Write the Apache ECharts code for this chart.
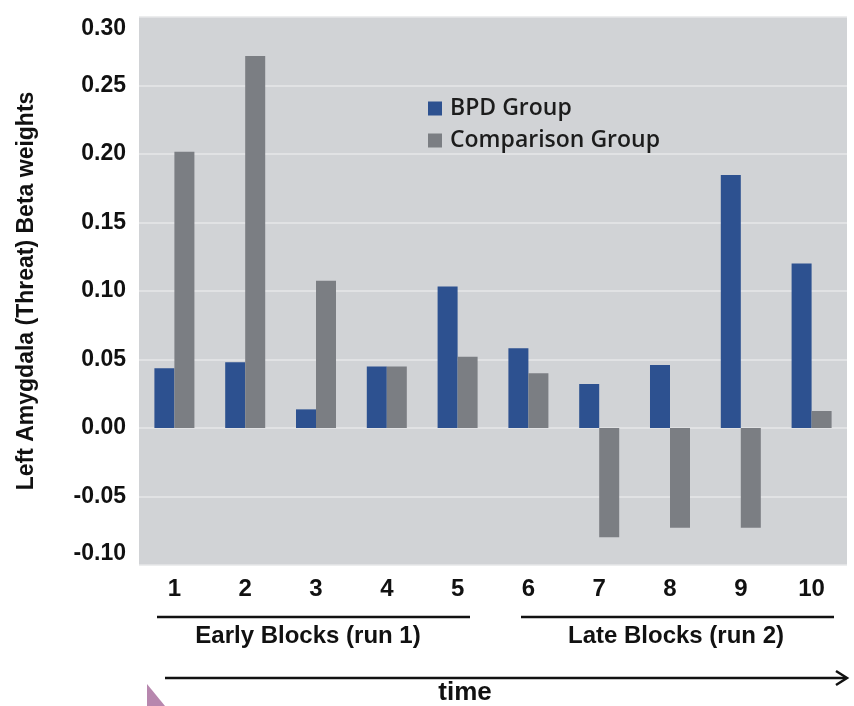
<!DOCTYPE html>
<html>
<head>
<meta charset="utf-8">
<script src="https://cdn.jsdelivr.net/npm/echarts@6/dist/echarts.min.js"></script>
<style>
html,body{margin:0;padding:0;background:#fff;}
#chart{width:854px;height:706px;}
</style>
</head>
<body>
<div id="chart"></div>
<script>
var categories = ['1','2','3','4','5','6','7','8','9','10'];
var bpdValues = [0.0436, 0.048, 0.0136, 0.0448, 0.1032, 0.0582, 0.0321, 0.046, 0.1847, 0.120];
var comparisonValues = [0.2017, 0.2715, 0.1075, 0.0448, 0.052, 0.0399, -0.0798, -0.0728, -0.0728, 0.0124];
var seriesNames = ['BPD Group', 'Comparison Group'];
var yTitle = 'Left Amygdala (Threat) Beta weights';
var groupLabels = ['Early Blocks (run 1)', 'Late Blocks (run 2)'];
var timeLabel = 'time';

var chart = echarts.init(document.getElementById('chart'));
var bold = 'Liberation Sans, Arial, sans-serif';
chart.setOption({
  animation: false,
  backgroundColor: '#ffffff',
  grid: {
    left: 139, right: 7, top: 17, bottom: 141,
    show: true, backgroundColor: '#d1d3d6', borderWidth: 0
  },
  legend: {
    orient: 'vertical',
    left: 423, top: 92,
    itemWidth: 14, itemHeight: 14, itemGap: 9,
    icon: 'rect',
    data: seriesNames,
    textStyle: { fontFamily: 'Open Sans, sans-serif', fontWeight: 600, fontSize: 23, color: '#1c1c1c', padding: [0,0,0,3] }
  },
  xAxis: {
    type: 'category',
    data: categories,
    axisLine: { show: false },
    axisTick: { show: false },
    splitLine: { show: false },
    axisLabel: { margin: 12, fontFamily: bold, fontWeight: 'bold', fontSize: 24, color: '#111' }
  },
  yAxis: {
    type: 'value',
    min: -0.1, max: 0.3, interval: 0.05,
    axisLine: { show: false },
    axisTick: { show: false },
    splitLine: { show: true, lineStyle: { color: '#e6e7e9', width: 1.5 } },
    axisLabel: {
      margin: 13, fontFamily: bold, fontWeight: 'bold', fontSize: 23, color: '#111',
      formatter: function (v) { return v.toFixed(2); },
      verticalAlignMinLabel: 'bottom',
      verticalAlignMaxLabel: 'top'
    },
    name: yTitle,
    nameLocation: 'middle',
    nameGap: 101,
    nameRotate: 90,
    nameTextStyle: { fontFamily: bold, fontWeight: 'bold', fontSize: 23, color: '#111' }
  },
  series: [
    { name: seriesNames[0], type: 'bar', data: bpdValues, barGap: '0%', barCategoryGap: '43.5%', itemStyle: { color: '#2d5190' } },
    { name: seriesNames[1], type: 'bar', data: comparisonValues, itemStyle: { color: '#7b7e83' } }
  ],
  graphic: [
    { type: 'line', shape: { x1: 157, y1: 617, x2: 470, y2: 617 }, style: { stroke: '#111', lineWidth: 2.5 } },
    { type: 'line', shape: { x1: 521, y1: 617, x2: 834, y2: 617 }, style: { stroke: '#111', lineWidth: 2.5 } },
    { type: 'text', x: 308, y: 636, style: { text: groupLabels[0], font: 'bold 24px Liberation Sans, Arial, sans-serif', fill: '#111', textAlign: 'center', textVerticalAlign: 'middle' } },
    { type: 'text', x: 676, y: 636, style: { text: groupLabels[1], font: 'bold 24px Liberation Sans, Arial, sans-serif', fill: '#111', textAlign: 'center', textVerticalAlign: 'middle' } },
    { type: 'line', shape: { x1: 165, y1: 678, x2: 846, y2: 678 }, style: { stroke: '#111', lineWidth: 2.5 } },
    { type: 'polyline', shape: { points: [[836, 671], [847, 678], [836, 685]] }, style: { stroke: '#111', lineWidth: 2.5, fill: null } },
    { type: 'text', x: 465, y: 693, style: { text: timeLabel, font: 'bold 26px Liberation Sans, Arial, sans-serif', fill: '#111', textAlign: 'center', textVerticalAlign: 'middle' } },
    { type: 'polygon', shape: { points: [[147, 684], [147, 706], [165, 706]] }, style: { fill: '#b787ae' } }
  ]
});
</script>
</body>
</html>
